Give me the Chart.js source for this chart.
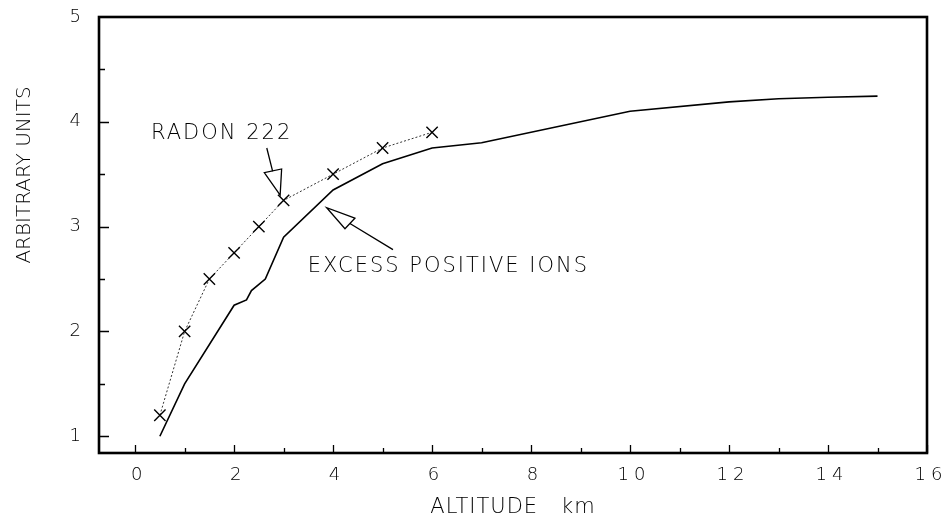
<!DOCTYPE html>
<html>
<head>
<meta charset="utf-8">
<script src="https://cdn.jsdelivr.net/npm/chart.js@4.4.1/dist/chart.umd.min.js"></script>
<style>
  html, body { margin: 0; padding: 0; background: #fff; }
  #wrap { width: 946px; height: 518px; }
</style>
</head>
<body>
<div id="wrap"><canvas id="c" width="946" height="518"></canvas></div>
<script>
// ---- data ----
const ionsX  = [0.5, 1.0, 2.0, 2.25, 2.35, 2.63, 3.0, 4.0, 5.0, 6.0, 7.0, 10.0, 12.0, 13.0, 14.0, 15.0];
const ionsY  = [1.0, 1.5, 2.25, 2.3, 2.39, 2.5, 2.9, 3.35, 3.6, 3.75, 3.8, 4.1, 4.19, 4.22, 4.235, 4.245];
const radonX = [0.5, 1.0, 1.5, 2.0, 2.5, 3.0, 4.0, 5.0, 6.0];
const radonY = [1.2, 2.0, 2.5, 2.75, 3.0, 3.25, 3.5, 3.75, 3.9];
const xTickValues = [0, 2, 4, 6, 8, 10, 12, 14, 16];
const yTickValues = [1, 2, 3, 4, 5];
const xTitle = 'ALTITUDE   km';
const yTitle = 'ARBITRARY UNITS';
const radonLabel = 'RADON 222';
const ionsLabel = 'EXCESS POSITIVE IONS';
// annotation anchors in data units
const radonLabelPos = [0.32, 3.89];
const radonArrow = { tail: [2.66, 3.75], base: [2.78, 3.525], b1: [2.61, 3.515], b2: [2.96, 3.55], tip: [2.93, 3.30] };
const ionsLabelPos = [3.49, 2.62];
const ionsArrow = { tail: [5.21, 2.78], base: [4.34, 3.03], b1: [4.44, 3.08], b2: [4.24, 2.98], tip: [3.87, 3.18] };

const FONT = "'DejaVu Sans', sans-serif";

const noPad = (s) => { s.paddingLeft = 0; s.paddingRight = 0; s.paddingTop = 0; s.paddingBottom = 0; };

const decor = {
  id: 'decor',
  beforeDraw(chart) {
    chart.ctx.letterSpacing = '5px';
  },
  afterDatasetsDraw(chart) {
    const ctx = chart.ctx;
    const xs = chart.scales.x, ys = chart.scales.y;
    const L = xs.left, R = xs.right, T = ys.top, B = ys.bottom;
    const P = (p) => [xs.getPixelForValue(p[0]), ys.getPixelForValue(p[1])];
    ctx.save();
    ctx.strokeStyle = '#000';
    ctx.fillStyle = '#000';
    // inward ticks
    ctx.lineWidth = 1.3;
    ctx.beginPath();
    for (let v = 0; v <= 16; v++) {
      const px = Math.round(xs.getPixelForValue(v)) + 0.5;
      const len = v % 2 === 0 ? 8 : 5;
      ctx.moveTo(px, B); ctx.lineTo(px, B - len);
    }
    for (let v = 1; v <= 4.5; v += 0.5) {
      const py = Math.round(ys.getPixelForValue(v)) + 0.5;
      const len = Number.isInteger(v) ? 10 : 6;
      ctx.moveTo(L, py); ctx.lineTo(L + len, py);
    }
    ctx.stroke();
    // frame
    ctx.lineWidth = 2.6;
    ctx.strokeRect(L, T, R - L, B - T);
    // arrows
    ctx.lineWidth = 1.3;
    [radonArrow, ionsArrow].forEach(ar => {
      const t = P(ar.tail), b = P(ar.base), b1 = P(ar.b1), b2 = P(ar.b2), tip = P(ar.tip);
      ctx.beginPath();
      ctx.moveTo(t[0], t[1]); ctx.lineTo(b[0], b[1]);
      ctx.moveTo(b1[0], b1[1]); ctx.lineTo(tip[0], tip[1]); ctx.lineTo(b2[0], b2[1]); ctx.closePath();
      ctx.stroke();
    });
    // labels
    ctx.font = '200 21px ' + FONT;
    ctx.letterSpacing = '2px';
    ctx.textBaseline = 'middle';
    ctx.textAlign = 'left';
    let p = P(radonLabelPos);
    ctx.fillText(radonLabel, p[0], p[1]);
    p = P(ionsLabelPos);
    ctx.fillText(ionsLabel, p[0], p[1]);
    // axis titles
    ctx.letterSpacing = '1px';
    ctx.textAlign = 'center';
    ctx.fillText(xTitle, (L + R) / 2, 508);
    ctx.letterSpacing = '0px';
    ctx.font = '200 20px ' + FONT;
    ctx.translate(25, 175);
    ctx.rotate(-Math.PI / 2);
    ctx.fillText(yTitle, 0, 0);
    ctx.restore();
  }
};

new Chart(document.getElementById('c'), {
  type: 'line',
  data: {
    datasets: [
      {
        label: 'Excess positive ions',
        data: ionsX.map((x, i) => ({ x, y: ionsY[i] })),
        borderColor: '#000',
        borderWidth: 1.6,
        pointRadius: 0,
        tension: 0,
        fill: false
      },
      {
        label: 'Radon 222',
        data: radonX.map((x, i) => ({ x, y: radonY[i] })),
        borderColor: '#333',
        borderWidth: 1,
        borderDash: [2, 2],
        pointStyle: 'crossRot',
        pointRadius: 8,
        pointBorderWidth: 1.4,
        pointBorderColor: '#000',
        tension: 0,
        fill: false
      }
    ]
  },
  options: {
    responsive: false,
    animation: false,
    devicePixelRatio: 1,
    layout: { padding: { top: 17, right: 19, left: 0, bottom: 0 } },
    plugins: { legend: { display: false }, tooltip: { enabled: false } },
    scales: {
      x: {
        type: 'linear',
        min: -0.73, max: 16,
        grid: { display: false, drawTicks: false },
        border: { display: false },
        afterBuildTicks: (s) => { s.ticks = xTickValues.map(v => ({ value: v })); },
        afterFit: (s) => { s.height = 65; noPad(s); },
        ticks: { color: '#000', padding: 12, labelOffset: 4, maxRotation: 0, autoSkip: false, font: { family: FONT, size: 18, weight: '200' } }
      },
      y: {
        type: 'linear',
        min: 0.84, max: 5,
        grid: { display: false, drawTicks: false },
        border: { display: false },
        afterBuildTicks: (s) => { s.ticks = yTickValues.map(v => ({ value: v })); },
        afterFit: (s) => { s.width = 99; noPad(s); },
        ticks: { color: '#000', padding: 13, autoSkip: false, font: { family: FONT, size: 18, weight: '200' } }
      }
    }
  },
  plugins: [decor]
});
</script>
</body>
</html>
